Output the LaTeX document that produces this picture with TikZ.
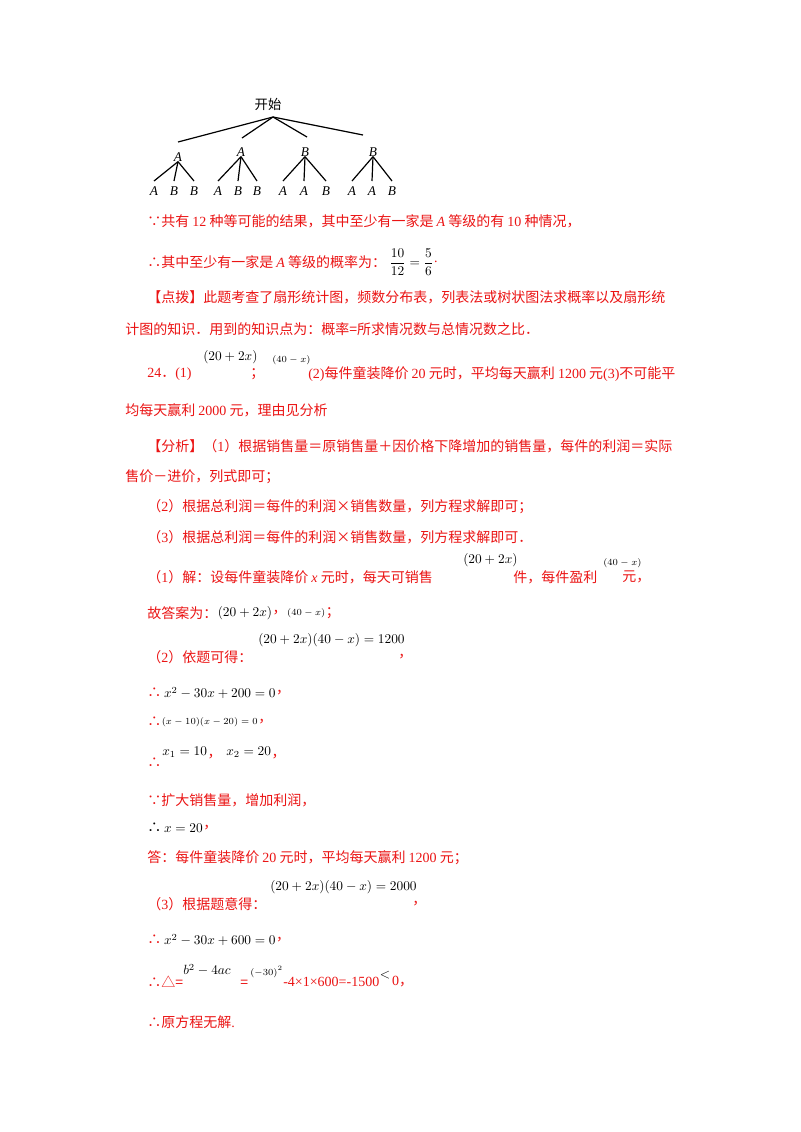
\documentclass[tikz,border=0pt]{standalone}
\usepackage{fontspec}
\setmainfont{Liberation Serif}
\newfontfamily\cjk{Noto Sans CJK SC}
\newcommand\lt[1]{{\rmfamily #1}}
\definecolor{rd}{RGB}{235,20,20}
\begin{document}
\begin{tikzpicture}[x=0.75pt,y=-0.75pt,
  tx/.style={anchor=west,inner sep=0,text=rd,font=\fontsize{10.5}{12}\selectfont\cjk},
  mt/.style={anchor=west,inner sep=0,text=black,font=\fontsize{10}{12}\selectfont},
  sm/.style={anchor=west,inner sep=0,text=black,font=\fontsize{7.5}{9}\selectfont},
  lf/.style={inner sep=0,font=\fontsize{10}{11}\selectfont\itshape},
  tl/.style={line width=0.9pt}]
\fill[white] (0,0) rectangle (800,1132);
% tree
\node[inner sep=0,font=\fontsize{10}{11}\selectfont\cjk] (st) at (268,104) {开始};
\coordinate (top) at (273,117);
\node[lf] (a1) at (178,157) {A};
\node[lf] (a2) at (241,152) {A};
\node[lf] (a3) at (305,152) {B};
\node[lf] (a4) at (373,152) {B};
\coordinate (e1) at (178,142);\coordinate (e2) at (242,138);\coordinate (e3) at (307,137);\coordinate (e4) at (363,135);
\foreach \i in {1,...,4}{\draw[tl] (top)--(e\i);}
\foreach \p/\x/\l in {a1/154/A,a1/174/B,a1/194/B,a2/218/A,a2/238/B,a2/257/B,a3/283/A,a3/304/A,a3/326/B,a4/352/A,a4/372/A,a4/392/B}{
  \node[lf] (l\x) at (\x,191) {\l};
  \draw[tl] (\p.south) -- ([yshift=-0.75pt]\x,180);
}
% text
\node[tx] (t1) at (147,221) {∵共有 \lt{12} 种等可能的结果，其中至少有一家是 \lt{\itshape A} 等级的有 \lt{10} 种情况，};
\node[tx] (t2) at (147,262) {∴其中至少有一家是 \lt{\itshape A} 等级的概率为：};
\node[mt] (t2m) at ([xshift=2pt]t2.east) {$\displaystyle\frac{10}{12}=\frac{5}{6}$};
\node[tx] (t2e) at (t2m.east) {\lt{.}};
\node[tx] (t3) at (147,297) {【点拨】此题考查了扇形统计图，频数分布表，列表法或树状图法求概率以及扇形统};
\node[tx] (t4) at (125,329) {计图的知识．用到的知识点为：概率=所求情况数与总情况数之比．};
\node[tx] (t5) at (147,374) {\lt{24}．\lt{(1)}};
\node[mt] (t5a) at (203,357) {$(20+2x)$};
\node[tx] (t5b) at (250,374) {；};
\node[sm] (t5c) at (272,360) {$(40-x)$};
\node[tx] (t5d) at (308,374) {\lt{(2)}每件童装降价 \lt{20} 元时，平均每天赢利 \lt{1200} 元\lt{(3)}不可能平};
\node[tx] (t6) at (125,410) {均每天赢利 \lt{2000} 元，理由见分析};
\node[tx] (t7) at (147,446) {【分析】（\lt{1}）根据销售量＝原销售量＋因价格下降增加的销售量，每件的利润＝实际};
\node[tx] (t8) at (125,477) {售价－进价，列式即可；};
\node[tx] (t9) at (147,507) {（\lt{2}）根据总利润＝每件的利润×销售数量，列方程求解即可；};
\node[tx] (t10) at (147,537) {（\lt{3}）根据总利润＝每件的利润×销售数量，列方程求解即可．};
\node[tx] (t11) at (147,577) {（\lt{1}）解：设每件童装降价 \lt{\itshape x} 元时，每天可销售};
\node[mt] (t11a) at (463,560) {$(20+2x)$};
\node[tx] (t11b) at (513,577) {件，每件盈利};
\node[sm] (t11c) at (603,563) {$(40-x)$};
\node[tx] (t11d) at (622,577) {元，};
\node[tx] (t12) at (147,613) {故答案为：};
\node[mt] (t12a) at (t12.east) {$(20+2x)$};
\node[tx] (t12b) at (t12a.east) {，};
\node[sm] (t12c) at (t12b.east) {$(40-x)$};
\node[tx] (t12d) at (t12c.east) {；};
\node[mt] (t13a) at (258,640) {$(20+2x)(40-x)=1200$};
\node[tx] (t13) at (147,657) {（\lt{2}）依题可得：};
\node[tx] (t13b) at (398,657) {，};
\node[tx] (t14) at (147,693) {∴};
\node[mt] (t14a) at (t14.east) {$\,x^2-30x+200=0$};
\node[tx] (t14b) at (t14a.east) {，};
\node[tx] (t15) at (147,722) {∴};
\node[sm] (t15a) at (t15.east) {$(x-10)(x-20)=0$};
\node[tx] (t15b) at (t15a.east) {，};
\node[tx] (t16) at (147,763) {∴};
\node[mt] (t16a) at (162,752) {$x_1=10$};
\node[tx] (t16b) at (t16a.east|-0,757) {，};
\node[mt] (t16c) at (226,752) {$x_2=20$};
\node[tx] (t16d) at (t16c.east|-0,757) {，};
\node[tx] (t17) at (147,800) {∵扩大销售量，增加利润，};
\node[tx,text=black] (t18) at (147,828) {∴};
\node[mt] (t18a) at (t18.east) {$\,x=20$};
\node[tx] (t18b) at (t18a.east) {，};
\node[tx] (t19) at (147,858) {答：每件童装降价 \lt{20} 元时，平均每天赢利 \lt{1200} 元；};
\node[mt] (t20a) at (270,887) {$(20+2x)(40-x)=2000$};
\node[tx] (t20) at (147,904) {（\lt{3}）根据题意得：};
\node[tx] (t20b) at (412,904) {，};
\node[tx] (t21) at (147,940) {∴};
\node[mt] (t21a) at (t21.east) {$\,x^2-30x+600=0$};
\node[tx] (t21b) at (t21a.east) {，};
\node[tx] (t22) at (147,982) {∴△=};
\node[mt] (t22a) at (183,970) {$b^2-4ac$};
\node[tx] (t22b) at (240,984) {=};
\node[sm] (t22c) at (250,972) {$(-30)^2$};
\node[tx] (t22d) at (283,982) {\lt{-4×1×600=-1500}};
\node[mt] (t22e) at ([yshift=5pt]t22d.east) {$<$};
\node[tx] (t22f) at ([xshift=1pt]t22e.east|-t22d) {\lt{0}，};
\node[tx] (t23) at (147,1022) {∴原方程无解\lt{.}};
\end{tikzpicture}
\end{document}
